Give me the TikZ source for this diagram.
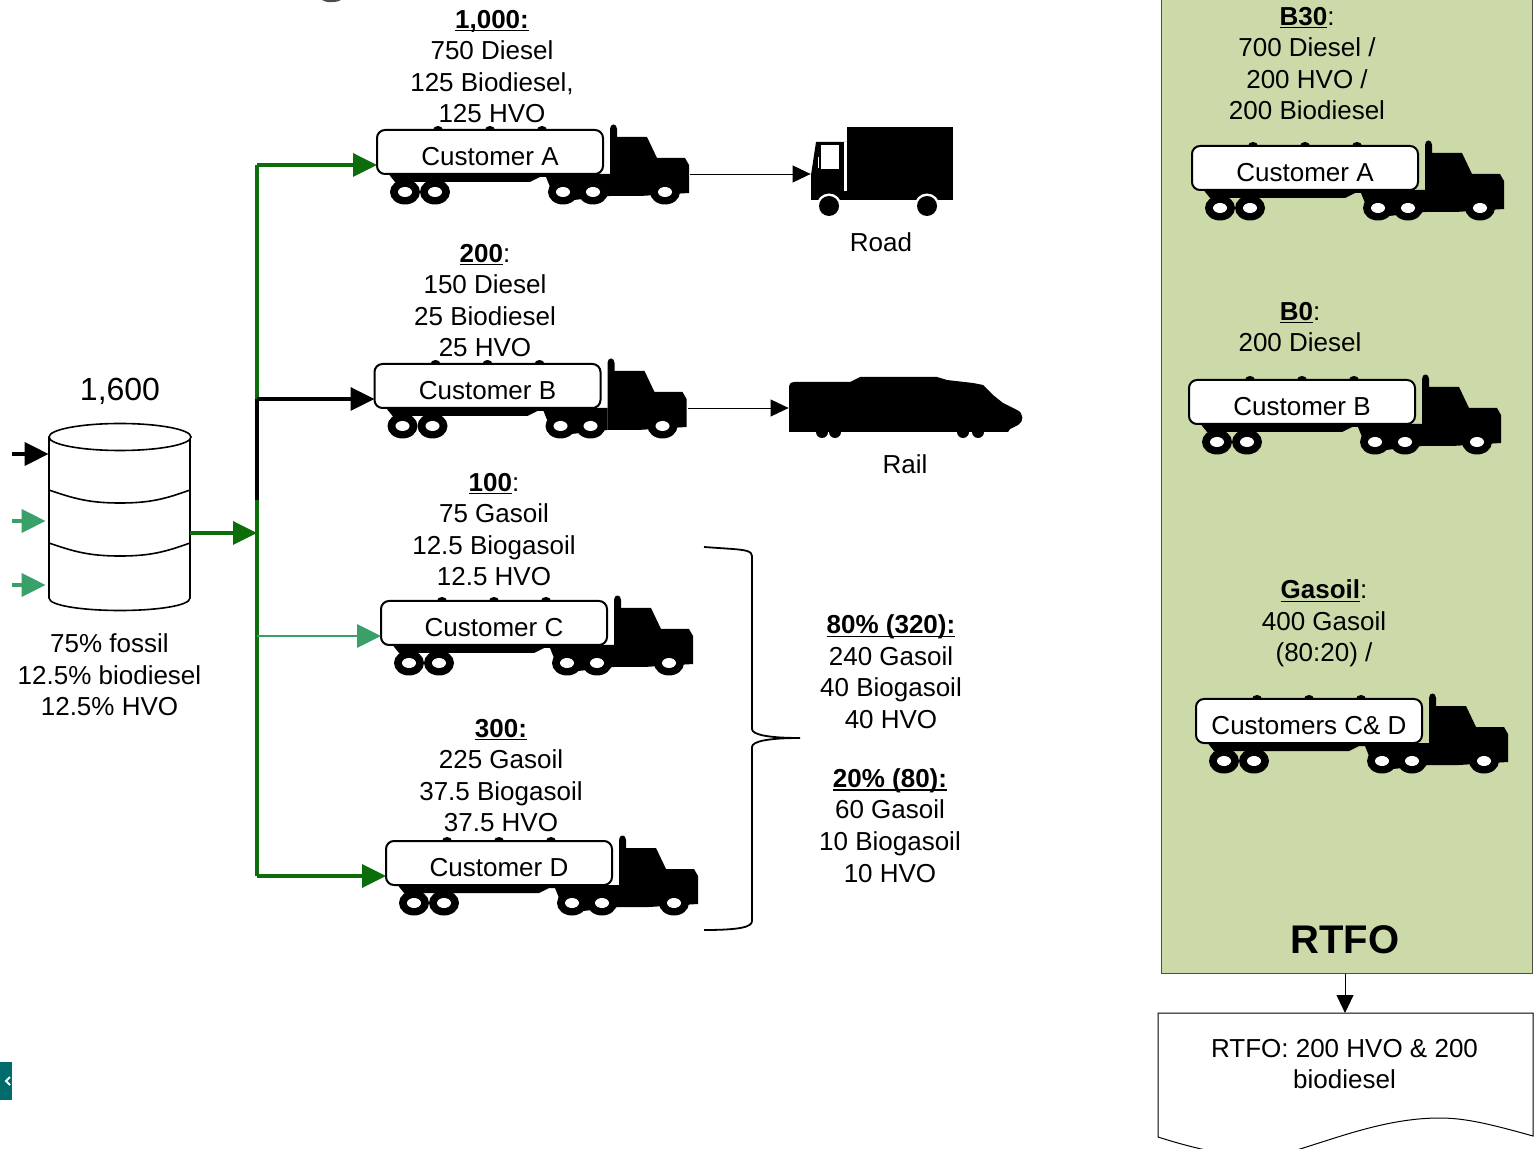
\documentclass[tikz,border=0pt]{standalone}
\usepackage{fontspec}
\setmainfont{Liberation Sans}
\usetikzlibrary{arrows.meta,calc}
\definecolor{dgreen}{HTML}{0B6E0B}
\definecolor{lgreen}{HTML}{38A068}
\definecolor{panelg}{HTML}{CBDAA8}
\definecolor{tealb}{HTML}{006B6B}
\newcommand{\hd}[1]{\textbf{\setbox0\hbox{#1}\rlap{\rule[-1.7pt]{\wd0}{0.8pt}}\box0}}
\tikzset{
  lbl/.style={font=\fontsize{13}{15.8}\selectfont, align=center, inner sep=0pt},
  tankb/.style={draw=black, line width=1pt, fill=white, rounded corners=4pt,
                minimum width=113pt, minimum height=22pt, inner sep=0pt,
                font=\fontsize{13}{15.8}\selectfont},
  bigar/.style={-{Triangle[length=12pt,width=11.5pt]}, line width=1.8pt},
  ltar/.style={-{Triangle[length=9pt,width=8.5pt]}, line width=0.45pt},
  pics/tanker/.style={code={
    % chassis, then cab, then wheels
    \fill[black] (-103,20) -- (-95,30) -- (40,30) -- (50,25) -- (56,25) -- (66,50) -- (120,44) -- (120,22) -- (108,22) -- (108,20) -- cycle;
    \fill[black] (120,44) -- (120,-23) .. controls (120,-29) and (127,-29) .. (127,-23) -- (127,-15)
       -- (157,-15) -- (167,6) -- (195,6) -- (199,13) -- (199,41) -- (150,44) -- cycle;
    \foreach \cx in {-52,0,52} \fill[black] (\cx,-22) ellipse [x radius=5, y radius=4];
    \foreach \wx in {-85,-55,73,103,175}
      \fill[black] (\wx,40) ellipse [x radius=15, y radius=12.5];
    \foreach \wx in {-85,-55,73,103,175}
      \fill[white] (\wx,40) ellipse [x radius=7, y radius=5];
    \node[tankb] (tank) at (0,0) {\raisebox{-6.6pt}[0pt][0pt]{#1}};
    \coordinate (inlet) at (-113,13);
    \coordinate (outlet) at (200,22);
  }},
}
\begin{document}
\begin{tikzpicture}[x=0.5pt, y=-0.5pt]
  \useasboundingbox (0,0) rectangle (1537,1149);

  % --- right panel, behind its trucks ---
  \node[draw=black!70, line width=0.5pt, fill=panelg, minimum width=185.5pt,
        minimum height=490pt, inner sep=0pt] (rtfopanel) at (1346.5,483) {};
  \node[font=\fontsize{20}{24}\selectfont\bfseries, inner sep=0pt] (rtfo) at (1345,940) {RTFO};

  % --- silo and its three feeds ---
  \node[lbl, font=\fontsize{16}{19}\selectfont] (volume) at (120,391) {1,600};
  \node[minimum width=70.5pt, minimum height=93.5pt, inner sep=0pt] (silo) at (119.5,516.5) {};
  \draw[line width=0.8pt, fill=white] (49,437) -- (49,598)
     .. controls (49,606) and (85,610.5) .. (120,610.5)
     .. controls (155,610.5) and (190,606) .. (190,598) -- (190,437);
  \draw[line width=0.8pt, fill=white] (120,437) ellipse [x radius=71, y radius=13.5];
  \foreach \yb in {490,543}
    \draw[line width=0.8pt] (49,\yb) .. controls (75,\yb+9) and (90,\yb+13) .. (120,\yb+13)
       .. controls (150,\yb+13) and (165,\yb+9) .. (190,\yb);
  \coordinate (feeda) at (12,454);
  \coordinate (feedb) at (12,521);
  \coordinate (feedc) at (12,585);
  \coordinate (junc) at (257,533);
  \coordinate (trunkmid) at (257,500);
  \draw[bigar, black] (feeda) -- (feeda -| silo.west);
  \draw[bigar, lgreen] (feedb) -- ($(feedb -| silo.west)+(-3,0)$);
  \draw[bigar, lgreen] (feedc) -- ($(feedc -| silo.west)+(-3,0)$);
  \draw[bigar, dgreen] (junc -| silo.east) -- (junc);
  \node[lbl] (blend) at (109.5,675) {75\% fossil\\12.5\% biodiesel\\12.5\% HVO};

  % --- customer trucks ---
  \pic (ta) at (490,152) {tanker=Customer A};
  \pic (tb) at (487.5,386) {tanker=Customer B};
  \pic (tc) at (494,623) {tanker=Customer C};
  \pic (td) at (499,863) {tanker=Customer D};
  \pic (pa) at (1305,168) {tanker=Customer A};
  \pic (pb) at (1302,402) {tanker=Customer B};
  \pic (pc) at (1309,721) {tanker=Customers C\& D};

  % --- trunk and branches ---
  \draw[line width=1.8pt, dgreen] (junc |- tainlet) -- (junc |- tbinlet);
  \draw[line width=1.8pt, dgreen] (trunkmid) -- (junc |- tdinlet);
  \draw[line width=1.8pt, black] (junc |- tbinlet) -- (trunkmid);
  \draw[bigar, dgreen] (junc |- tainlet) -- (tainlet);
  \draw[bigar, black] (junc |- tbinlet) -- (tbinlet);
  \draw[bigar, lgreen, line width=1.4pt] (junc |- tcinlet) -- (tcinlet);
  \draw[bigar, dgreen] (junc |- tdinlet) -- (tdinlet);

  % --- road lorry ---
  \node[minimum width=71pt, minimum height=36.5pt, inner sep=0pt] (road) at (882,163.5) {};
  \fill[black] (847,127) rectangle (953,200);
  \fill[black] (811,200) -- (811,175) -- (816,142) -- (847,142) -- (847,200) -- cycle;
  \fill[white] (844,142) rectangle (847,191);
  \fill[white] (821,145) rectangle (839,169);
  \fill[white] (817.5,157) rectangle (819,168);
  \foreach \wx in {829,927}{
    \fill[white] (\wx,206) circle (12.5);
    \fill[black] (\wx,206) circle (10);
  }
  \node[lbl] (roadlbl) at (881,242) {Road};

  % --- train ---
  \node[minimum width=117pt, minimum height=28pt, inner sep=0pt] (rail) at (906,405) {};
  \fill[black] (789,432) -- (789,389) .. controls (789,384) and (790,382) .. (795,382) -- (850,382)
     -- (860,377) -- (937,377) -- (947,380) -- (973,383) -- (983,385) -- (993,395) -- (1003,403)
     -- (1017,410) .. controls (1024,413) and (1024,422) .. (1018,425) -- (1010,429) -- (1008,432) -- cycle;
  \foreach \wx in {822,835,963,978}
    \fill[black] (\wx,432) circle (6);
  \node[lbl] (raillbl) at (905,464) {Rail};
  \draw[ltar] (taoutlet) -- (taoutlet -| road.west);
  \draw[ltar] (tboutlet) -- (tboutlet -| rail.west);

  % --- blend labels ---
  \node[lbl, anchor=north] (qa) at (492,9.5) {\hd{1,000:}\\750 Diesel\\125 Biodiesel,\\125 HVO};
  \node[lbl, anchor=north] (qb) at (485,243.5) {\hd{200}:\\150 Diesel\\25 Biodiesel\\25 HVO};
  \node[lbl, anchor=north] (qc) at (494,472.5) {\hd{100}:\\75 Gasoil\\12.5 Biogasoil\\12.5 HVO};
  \node[lbl, anchor=north] (qd) at (501,718.5) {\hd{300:}\\225 Gasoil\\37.5 Biogasoil\\37.5 HVO};
  \node[lbl, anchor=north] (sa) at (891,614.5) {\hd{80\% (320):}\\240 Gasoil\\40 Biogasoil\\40 HVO};
  \node[lbl, anchor=north] (sb) at (890,768) {\hd{20\% (80):}\\60 Gasoil\\10 Biogasoil\\10 HVO};
  \node[lbl, anchor=north] (pqa) at (1307,6.5) {\hd{B30}:\\700 Diesel /\\200 HVO /\\200 Biodiesel};
  \node[lbl, anchor=north] (pqb) at (1300,301.5) {\hd{B0}:\\200 Diesel};
  \node[lbl, anchor=north] (pqc) at (1324,579.5) {\hd{Gasoil}:\\400 Gasoil\\(80:20) /};

  % --- brace ---
  \draw[line width=0.9pt] (704,547) -- (733,549) .. controls (745,550) and (752,551) .. (752,556)
     -- (752,729) .. controls (752,735) and (770,738) .. (800,738)
     .. controls (770,738) and (752,741) .. (752,747)
     -- (752,921) .. controls (752,927) and (740,930) .. (704,930);

  % --- report ---
  \coordinate (reporttop) at (1345,1013);
  \draw[ltar] (rtfopanel.south -| reporttop) -- (reporttop);
  \draw[line width=0.5pt, fill=white] (1158,1137) -- (1158,1013) -- (1533,1013) -- (1533,1136)
     .. controls (1490,1124) and (1465,1118) .. (1440,1118)
     .. controls (1390,1118) and (1345,1135) .. (1300,1149)
     .. controls (1270,1160) and (1230,1160) .. (1158,1137);
  \node[lbl] (report) at (1344.5,1064) {RTFO: 200 HVO \& 200\\biodiesel};

  % --- cropped leftovers at the edges ---
  \fill[tealb] (0,1062) rectangle (12,1100);
  \draw[white, line width=1pt] (10,1077) -- (6,1081) -- (10,1085);
  \fill[black!70] (322,0) .. controls (326,3) and (336,3) .. (341,0) -- cycle;
\end{tikzpicture}
\end{document}
